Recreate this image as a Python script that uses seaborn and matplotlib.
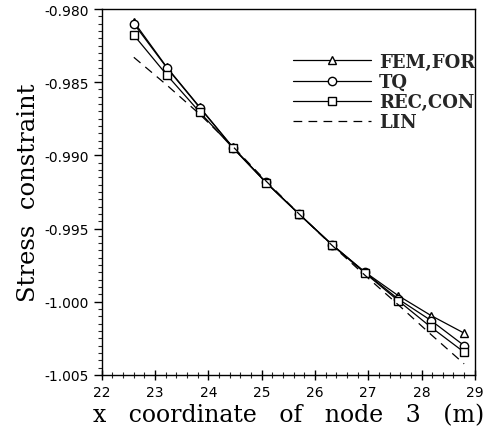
import matplotlib
matplotlib.use("Agg")
import matplotlib.pyplot as plt
import seaborn as sns
import pandas as pd
from matplotlib.ticker import MultipleLocator, FormatStrFormatter

x_node3 = [22.60, 23.22, 23.84, 24.46, 25.08, 25.70, 26.32, 26.94, 27.56, 28.18, 28.80]
fem_for = [-0.98087, -0.98398, -0.98672, -0.98945, -0.99184, -0.99400, -0.99610, -0.99798, -0.99958, -1.00095, -1.00215]
tq      = [-0.98100, -0.98402, -0.98675, -0.98947, -0.99184, -0.99400, -0.99610, -0.99800, -0.99981, -1.00129, -1.00300]
rec_con = [-0.98178, -0.98451, -0.98706, -0.98950, -0.99186, -0.99402, -0.99612, -0.99805, -0.99992, -1.00175, -1.00345]
lin     = [-0.98330, -0.98520, -0.98720, -0.98940, -0.99175, -0.99400, -0.99615, -0.99820, -1.00020, -1.00225, -1.00425]

series_names = ["FEM,FOR", "TQ", "REC,CON", "LIN"]
xticks = [22, 23, 24, 25, 26, 27, 28, 29]
yticks = [-0.980, -0.985, -0.990, -0.995, -1.000, -1.005]

sns.set_theme(style="ticks")
plt.rcParams["font.family"] = ["DejaVu Sans"]

fig = plt.figure(figsize=(4.92, 4.35), dpi=100)
ax = fig.add_axes([0.207, 0.136, 0.758, 0.841])

df = pd.DataFrame({"x": x_node3, "FEM,FOR": fem_for, "TQ": tq, "REC,CON": rec_con, "LIN": lin})

styles = {
    "FEM,FOR": dict(marker="^", linestyle="-"),
    "TQ": dict(marker="o", linestyle="-"),
    "REC,CON": dict(marker="s", linestyle="-"),
    "LIN": dict(marker=None, linestyle=(0, (7, 5))),
}
for name in series_names:
    st = styles[name]
    kw = dict(color="black", linewidth=0.9, label=name, ax=ax, legend=False)
    if st["marker"]:
        sns.lineplot(data=df, x="x", y=name, marker=st["marker"], markersize=6,
                     markerfacecolor="white", markeredgecolor="black",
                     markeredgewidth=1.0, linestyle=st["linestyle"], **kw)
    else:
        sns.lineplot(data=df, x="x", y=name, linestyle=st["linestyle"], **kw)

ax.set_xlim(22, 29)
ax.set_ylim(-1.005, -0.980)
ax.set_xticks(xticks)
ax.set_yticks(yticks)
ax.xaxis.set_minor_locator(MultipleLocator(0.2))
ax.yaxis.set_minor_locator(MultipleLocator(0.0005))
ax.yaxis.set_major_formatter(FormatStrFormatter("%.3f"))
ax.tick_params(axis="y", which="major", direction="out", length=6, width=1, labelsize=10, colors="black")
ax.tick_params(axis="y", which="minor", direction="out", length=3, width=0.8)
ax.tick_params(axis="x", which="major", direction="inout", length=7, width=1, labelsize=10, colors="black")
ax.tick_params(axis="x", which="minor", direction="inout", length=4, width=0.8)
for s in ax.spines.values():
    s.set_color("black")
    s.set_linewidth(1.0)

ax.set_xlabel("x   coordinate   of   node   3   (m)", fontfamily="DejaVu Serif", fontsize=17, labelpad=3, color="black")
ax.set_ylabel("Stress  constraint", fontfamily="DejaVu Serif", fontsize=17.5, labelpad=3, color="black")

handles, labels = ax.get_legend_handles_labels()
leg = ax.legend(handles, labels, loc="upper right", bbox_to_anchor=(1.045, 0.925), frameon=False,
                handlelength=4.3, handletextpad=0.45, labelspacing=0.12,
                prop={"family": "DejaVu Serif", "weight": "bold", "size": 13})

fig.savefig("out.png", dpi=100)
